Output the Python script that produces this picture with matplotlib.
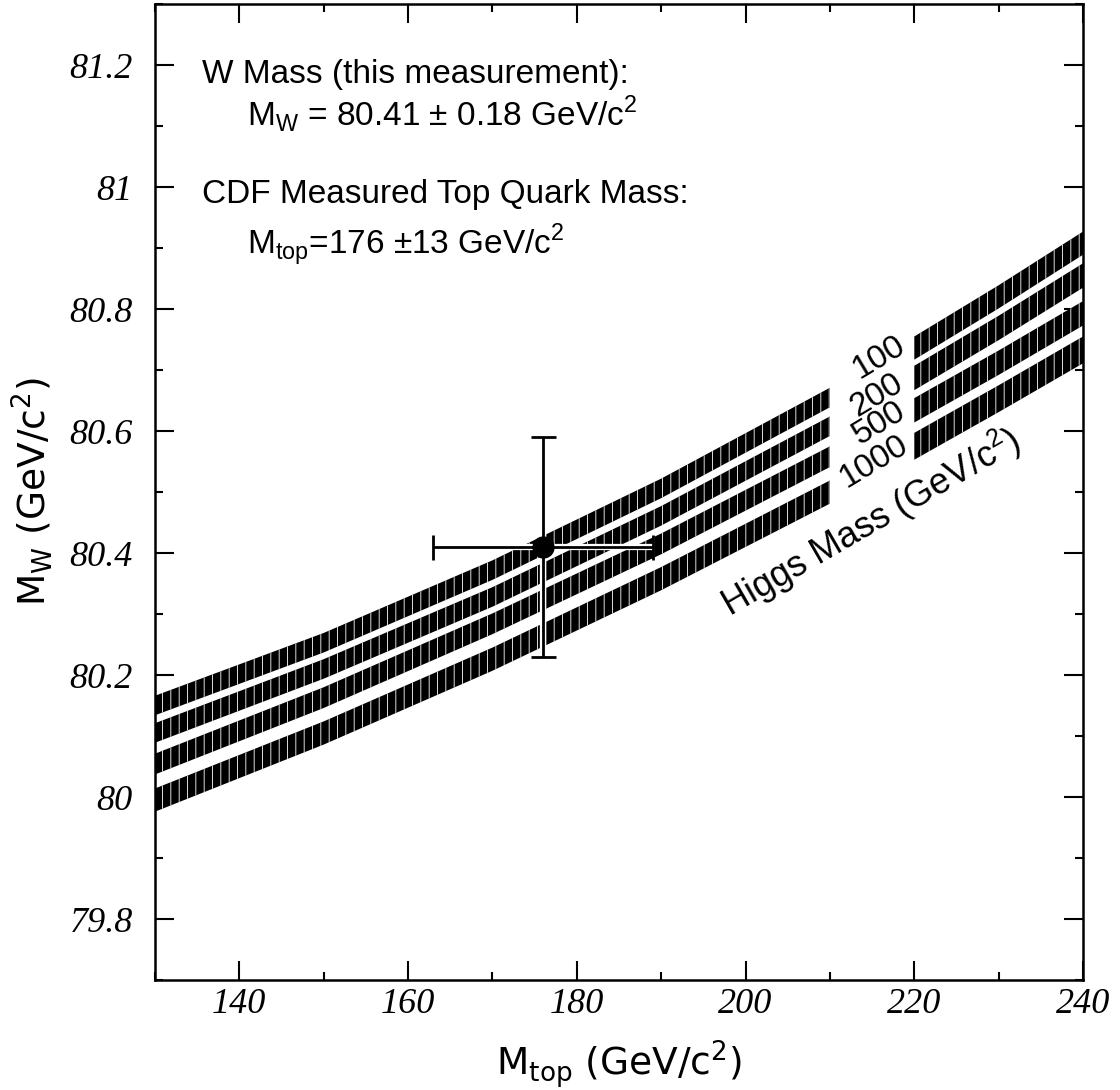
import numpy as np
import matplotlib
matplotlib.use("Agg")
import matplotlib.pyplot as plt
from matplotlib.ticker import FixedLocator, MultipleLocator

# Data
##############################
# top quark mass nodes where the band centres were read (GeV/c^2)
mtop_left = [130, 150, 170, 190, 210]
mtop_right = [220, 230, 240]

higgs_labels = ["100", "200", "500", "1000"]

# band centres (M_W, GeV/c^2), one row per Higgs mass
mw_left = [
    [80.150, 80.253, 80.372, 80.506, 80.655],
    [80.105, 80.210, 80.328, 80.461, 80.608],
    [80.054, 80.163, 80.284, 80.415, 80.558],
    [79.995, 80.105, 80.226, 80.358, 80.500],
]
mw_right = [
    [80.736, 80.820, 80.908],
    [80.687, 80.769, 80.855],
    [80.634, 80.712, 80.793],
    [80.575, 80.653, 80.733],
]
# half widths of the bands
hw_left = [0.016, 0.016, 0.017, 0.019]
hw_right = [0.019, 0.020, 0.020, 0.022]

# the measurement
mtop_meas, mtop_err = 176, 13
mw_meas, mw_err = 80.41, 0.18

xticks = [140, 160, 180, 200, 220, 240]
xtick_labels = ["140", "160", "180", "200", "220", "240"]
yticks = [79.8, 80.0, 80.2, 80.4, 80.6, 80.8, 81.0, 81.2]
ytick_labels = ["79.8", "80", "80.2", "80.4", "80.6", "80.8", "81", "81.2"]

# Plot
##############################
plt.rcParams["mathtext.fontset"] = "custom"
plt.rcParams["mathtext.rm"] = "Liberation Sans"
plt.rcParams["hatch.linewidth"] = 0.6

fig = plt.figure(figsize=(11.2, 10.9), dpi=100)
ax = fig.add_axes([0.1384, 0.1009, 0.8286, 0.8954])

for i in range(4):
    c = np.array(mw_left[i])
    ax.fill_between(mtop_left, c - hw_left[i], c + hw_left[i], facecolor="black",
                    edgecolor="white", hatch="||", linewidth=0, zorder=2)
    c = np.array(mw_right[i])
    ax.fill_between(mtop_right, c - hw_right[i], c + hw_right[i], facecolor="black",
                    edgecolor="white", hatch="||", linewidth=0, zorder=2)

# error bar with a white halo so it shows over the bands
ax.errorbar(mtop_meas, mw_meas, xerr=mtop_err, yerr=mw_err, fmt="none",
            ecolor="white", elinewidth=4.5, zorder=3)
ax.errorbar(mtop_meas, mw_meas, xerr=mtop_err, yerr=mw_err, fmt="o", color="black",
            ms=15, elinewidth=2, capsize=9, capthick=2, zorder=4)

ax.set_xlim(130, 240)
ax.set_ylim(79.7, 81.3)

ax.xaxis.set_major_locator(FixedLocator(xticks))
ax.set_xticklabels(xtick_labels)
ax.xaxis.set_minor_locator(MultipleLocator(10))
ax.yaxis.set_major_locator(FixedLocator(yticks))
ax.set_yticklabels(ytick_labels)
ax.yaxis.set_minor_locator(MultipleLocator(0.1))

ax.tick_params(which="both", direction="in", top=True, right=True, width=1.5)
ax.tick_params(which="major", length=14)
ax.tick_params(which="minor", length=6)
ax.tick_params(axis="x", pad=6)
ax.tick_params(axis="y", pad=16)
for lab in ax.get_xticklabels() + ax.get_yticklabels():
    lab.set_fontfamily("Liberation Serif")
    lab.set_fontstyle("italic")
    lab.set_fontsize(26)
for sp in ax.spines.values():
    sp.set_linewidth(1.8)

ax.set_xlabel(r"M$_\mathregular{top}$ (GeV/c$^\mathregular{2}$)", fontsize=27,
              fontfamily="DejaVu Sans")
ax.xaxis.set_label_coords(0.5, -0.06)
ax.set_ylabel(r"M$_\mathregular{W}$ (GeV/c$^\mathregular{2}$)", fontsize=27,
              fontfamily="DejaVu Sans")
ax.yaxis.set_label_coords(-0.108, 0.5)

# text block
txt = dict(transform=ax.transAxes, fontsize=24, fontfamily="Liberation Sans", va="baseline")
ax.text(0.0506, 0.919, "W Mass (this measurement):", **txt)
ax.text(0.099, 0.876, r"M$_\mathregular{W}$ = 80.41 $\pm$ 0.18 GeV/c$^\mathregular{2}$", **txt)
ax.text(0.0506, 0.796, "CDF Measured Top Quark Mass:", **txt)
ax.text(0.099, 0.745, r"M$_\mathregular{top}$=176 $\pm$13 GeV/c$^\mathregular{2}$", **txt)

# Higgs mass labels in the gap
label_x = [215.8, 215.6, 215.8, 215.2]
label_y = [80.72, 80.658, 80.613, 80.55]
for s, lx, ly in zip(higgs_labels, label_x, label_y):
    ax.text(lx, ly, s, fontsize=24, fontfamily="Liberation Sans", rotation=31,
            ha="center", va="center", rotation_mode="anchor")
ax.text(214.8, 80.45, r"Higgs Mass (GeV/c$^\mathregular{2}$)", fontsize=26,
        fontfamily="Liberation Sans", rotation=30, ha="center", va="center",
        rotation_mode="anchor")

plt.savefig("out.png", dpi=100)
plt.close()
